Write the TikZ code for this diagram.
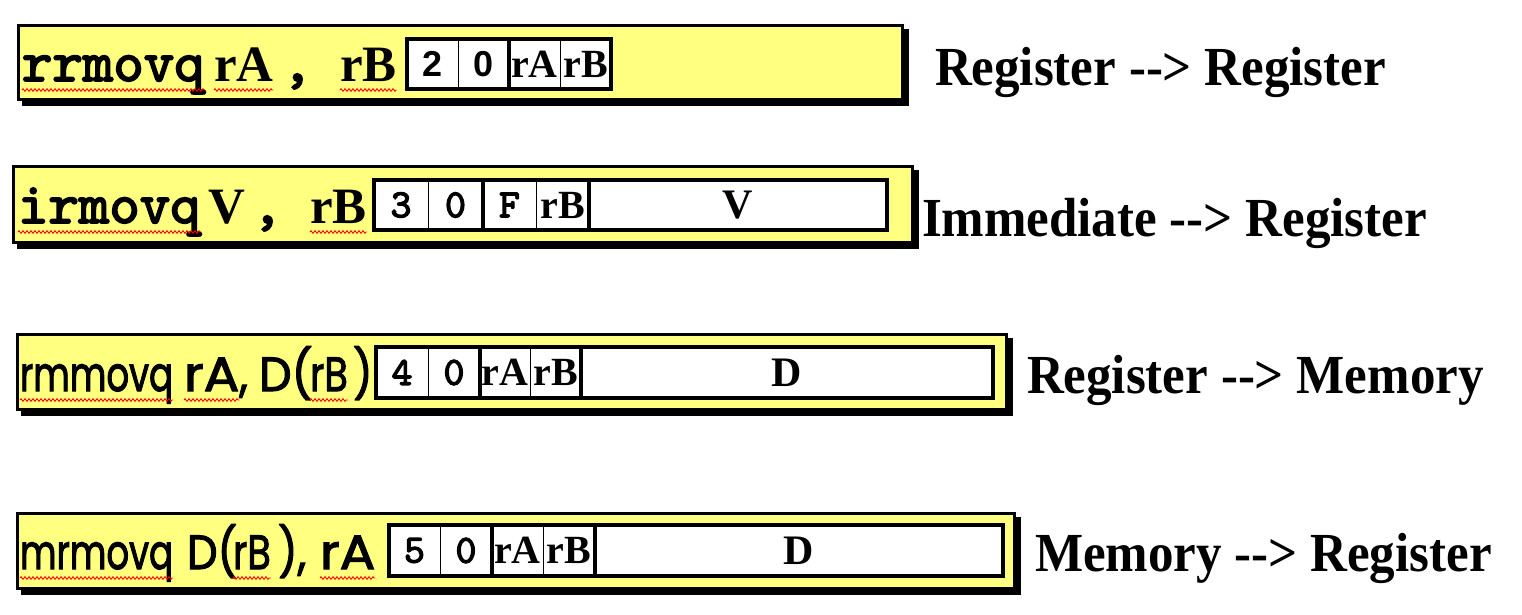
\documentclass[tikz,border=0pt]{standalone}
\usepackage{fontspec}
\usepackage{graphicx}
\usetikzlibrary{backgrounds,calc,decorations.pathmorphing}

\newfontfamily\timesfont{Liberation Serif}
\newfontfamily\helvfont{Liberation Sans}
\newfontfamily\comicfont{Poppins}[FakeBold=2.4]
\newfontfamily\monobold{lmmono10-regular.otf}[FakeBold=3]

\definecolor{padyellow}{RGB}{255,255,128}

% font shortcuts
\newcommand\fs[1]{\fontsize{#1}{#1}\selectfont}
\newcommand\tallish[1]{\scalebox{1}[1.08]{#1}}
\newcommand\cw[2]{\scalebox{#1}[1]{#2}}

\tikzset{
  ybox/.style={draw, line width=3pt, fill=padyellow, inner sep=0pt, outer sep=0pt},
  field/.style={draw, line width=4pt, fill=white, inner sep=0pt, outer sep=0pt},
  cell/.style={draw, line width=1pt, inner sep=0pt, outer sep=0pt},
  divider/.style={line width=4pt},
  word/.style={inner sep=0pt, outer sep=0pt, anchor=base west},
  modelabel/.style={word, font=\timesfont\bfseries\fs{51pt}},
  courword/.style={word, font=\monobold\fs{58pt}},
  tmsword/.style={word, font=\timesfont\bfseries\fs{51pt}},
  comicword/.style={word, font=\comicfont\fs{48pt}},
  regtext/.style={font=\timesfont\bfseries\fs{40pt}},
  bigtext/.style={font=\timesfont\bfseries\fs{42pt}},
  sansdigit/.style={font=\helvfont\bfseries\fs{36pt}},
  monodigit/.style={font=\monobold\fs{40pt}},
  squiggle/.style={draw=red, line width=0.9pt, decorate,
    decoration={zigzag, amplitude=1.3pt, segment length=4pt}},
}

\begin{document}
\begin{tikzpicture}[x=1pt, y=-1pt]
\useasboundingbox (0,0) rectangle (1522,614);

% ---------- yellow instruction pads ----------
\node[ybox, minimum width=884pt, minimum height=74pt] (y1) at (460.5,62.5) {};
\node[ybox, minimum width=899pt, minimum height=76pt] (y2) at (463,204.5) {};
\node[ybox, minimum width=989pt, minimum height=75pt] (y3) at (512,372) {};
\node[ybox, minimum width=997pt, minimum height=75pt] (y4) at (516,551) {};

\begin{scope}[on background layer]
  \foreach \b in {y1,y2,y3,y4}
    \fill[black] ($(\b.north west)+(3.5,3.5)$) rectangle ($(\b.south east)+(6.5,6.5)$);
\end{scope}

% ---------- rrmovq ----------
\node[field, minimum width=204pt, minimum height=50pt] (f1) at (509,64) {};
\node[cell, sansdigit, minimum width=51pt, minimum height=50pt] (r1c1) at (432.5,64) {2};
\node[cell, sansdigit, minimum width=51pt, minimum height=50pt] (r1c2) at (483.5,64) {0};
\node[cell, regtext,   minimum width=51pt, minimum height=50pt] (r1c3) at (534.5,64) {rA};
\node[cell, regtext,   minimum width=51pt, minimum height=50pt] (r1c4) at (585.5,64) {rB};
\draw[divider] (r1c2.north east) -- (r1c2.south east);

\node[courword] (r1op) at (22,81) {rrmovq};
\node[tmsword]  (r1a)  at (214,81) {rA};
\node[courword] (r1cm) at (282,81) {,};
\node[tmsword]  (r1b)  at (340,81) {rB};

% ---------- irmovq ----------
\node[field, minimum width=513pt, minimum height=50pt] (f2) at (630.5,205) {};
\node[cell, monodigit, minimum width=54pt,  minimum height=50pt] (r2c1) at (401,205) {3};
\node[cell, monodigit, minimum width=55pt,  minimum height=50pt] (r2c2) at (455.5,205) {0};
\node[cell, monodigit, minimum width=53pt,  minimum height=50pt] (r2c3) at (509.5,205) {F};
\node[cell, regtext,   minimum width=53pt,  minimum height=50pt] (r2c4) at (562.5,205) {rB};
\node[cell, bigtext,   minimum width=298pt, minimum height=50pt] (r2c5) at (738,205) {V};
\draw[divider] (r2c2.north east) -- (r2c2.south east);
\draw[divider] (r2c4.north east) -- (r2c4.south east);

\node[courword] (r2op) at (18,223) {irmovq};
\node[tmsword]  (r2v)  at (208,223) {V};
\node[courword] (r2cm) at (252,223) {,};
\node[tmsword]  (r2b)  at (310,223) {rB};

% ---------- rmmovq ----------
\node[field, minimum width=617pt, minimum height=51pt] (f3) at (684.5,372.5) {};
\node[cell, monodigit, minimum width=52pt,  minimum height=51pt] (r3c1) at (402,372.5) {4};
\node[cell, monodigit, minimum width=52pt,  minimum height=51pt] (r3c2) at (454,372.5) {0};
\node[cell, regtext,   minimum width=50pt,  minimum height=51pt] (r3c3) at (505,372.5) {rA};
\node[cell, regtext,   minimum width=51pt,  minimum height=51pt] (r3c4) at (555.5,372.5) {rB};
\node[cell, bigtext,   minimum width=412pt, minimum height=51pt] (r3c5) at (787,372.5) {D};
\draw[divider] (r3c2.north east) -- (r3c2.south east);
\draw[divider] (r3c4.north east) -- (r3c4.south east);

\node[comicword] (r3op) at (20,391)  {\cw{0.74}{rmmovq}};
\node[comicword] (r3a)  at (184,391) {\cw{1.1}{rA}};
\node[comicword] (r3cm) at (r3a.base east) {\cw{0.9}{,}};
\node[comicword] (r3d)  at (259,391) {\cw{0.96}{D(}};
\node[comicword] (r3b)  at (310,391) {\cw{0.8}{rB}};
\node[comicword] (r3p)  at (353,391) {\cw{0.9}{)}};

% ---------- mrmovq ----------
\node[field, minimum width=614pt, minimum height=51pt] (f4) at (696,550.5) {};
\node[cell, monodigit, minimum width=51pt,  minimum height=51pt] (r4c1) at (414.5,550.5) {5};
\node[cell, monodigit, minimum width=52pt,  minimum height=51pt] (r4c2) at (466,550.5) {0};
\node[cell, regtext,   minimum width=51pt,  minimum height=51pt] (r4c3) at (517.5,550.5) {rA};
\node[cell, regtext,   minimum width=52pt,  minimum height=51pt] (r4c4) at (569,550.5) {rB};
\node[cell, bigtext,   minimum width=408pt, minimum height=51pt] (r4c5) at (799,550.5) {D};
\draw[divider] (r4c2.north east) -- (r4c2.south east);
\draw[divider] (r4c4.north east) -- (r4c4.south east);

\node[comicword] (r4op) at (20,569)  {\cw{0.74}{mrmovq}};
\node[comicword] (r4d)  at (187,569) {\cw{0.9}{D(}};
\node[comicword] (r4b)  at (233,569) {\cw{0.8}{rB}};
\node[comicword] (r4p)  at (278,569) {\cw{0.9}{),}};
\node[comicword] (r4a)  at (320,569) {\cw{1.1}{rA}};

% ---------- spelling marks ----------
\foreach \w in {r1op,r1a,r1b,r2op,r2b,r3op,r3a,r3b,r4op,r4b,r4a}
  \draw[squiggle] ($(\w.base west)+(0,9)$) -- ($(\w.base east)+(0,9)$);

% ---------- descriptions ----------
\node[modelabel] (m1) at (935,85)  {\tallish{Register --> Register}};
\node[modelabel] (m2) at (922,236) {\tallish{Immediate --> Register}};
\node[modelabel] (m3) at (1027,393) {\tallish{Register --> Memory}};
\node[modelabel] (m4) at (1035,571) {\tallish{Memory --> Register}};
\end{tikzpicture}
\end{document}
